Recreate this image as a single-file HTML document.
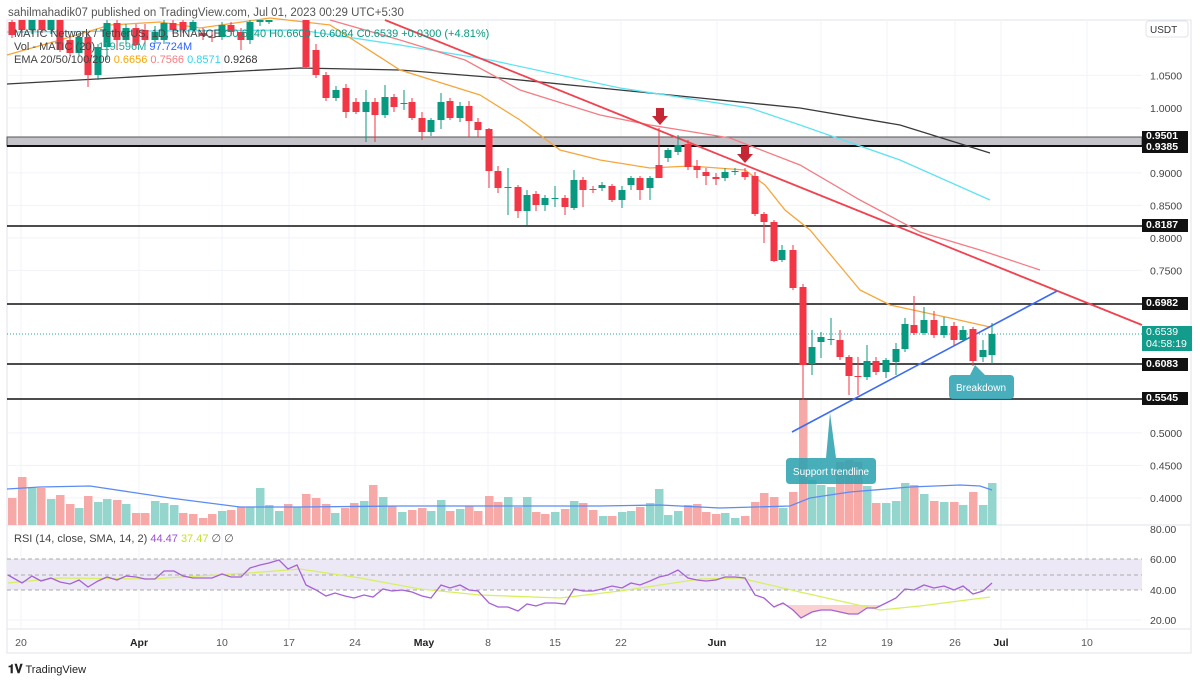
<!DOCTYPE html>
<html><head><meta charset="utf-8"><style>
html,body{margin:0;padding:0;background:#fff;width:1200px;height:681px;overflow:hidden;font-family:"Liberation Sans",sans-serif}
</style></head><body>
<svg id="s" width="1200" height="681" xmlns="http://www.w3.org/2000/svg" font-family="Liberation Sans, sans-serif">
<rect width="1200" height="681" fill="#fff"/>
<text x="8" y="16" font-size="11.5" fill="#555">sahilmahadik07 published on TradingView.com, Jul 01, 2023 00:29 UTC+5:30</text>
<rect x="7" y="20" width="1184" height="633" fill="none" stroke="#e0e3eb"/>
<g id="grid" stroke="#f0f3fa" stroke-width="1"></g>
<!-- RSI band -->
<rect x="7" y="559" width="1135" height="31" fill="#ede8f6"/>
<g stroke="#aaa" stroke-dasharray="4,3" stroke-width="1">
<line x1="7" y1="559" x2="1142" y2="559"/><line x1="7" y1="575" x2="1142" y2="575"/><line x1="7" y1="590" x2="1142" y2="590"/>
</g>
<line x1="7" y1="525" x2="1191" y2="525" stroke="#e0e3eb"/>
<line x1="7" y1="629" x2="1191" y2="629" stroke="#e0e3eb"/>
<g id="vol"></g>
<g id="lines"></g>
<g id="candles"></g>
<g id="over"></g>
<!-- legends -->
<text x="14" y="37" font-size="11" fill="#444">MATIC Network / TetherUS, 1D, BINANCE  <tspan fill="#089981">O0.6240  H0.6600  L0.6084  C0.6539  +0.0300 (+4.81%)</tspan></text>
<text x="14" y="50" font-size="11" fill="#444">Vol - MATIC (20)  <tspan fill="#26a69a">119.596M</tspan>  <tspan fill="#2962ff">97.724M</tspan></text>
<text x="14" y="63" font-size="11" fill="#444">EMA 20/50/100/200  <tspan fill="#f7a600">0.6656</tspan>  <tspan fill="#f77c80">0.7566</tspan>  <tspan fill="#30d5f0">0.8571</tspan>  <tspan fill="#333">0.9268</tspan></text>
<text x="14" y="542" font-size="11" fill="#444">RSI (14, close, SMA, 14, 2)  <tspan fill="#9c4fd0">44.47</tspan>  <tspan fill="#c8e020">37.47</tspan>  <tspan fill="#555">∅  ∅</tspan></text>
<!-- right axis -->
<rect x="1146" y="21" width="42" height="16" rx="3" fill="#fff" stroke="#e0e3eb"/>
<text x="1150" y="33" font-size="10" fill="#333">USDT</text>
<g font-size="10.5" fill="#444" id="axis"></g>
<text x="8" y="673" font-size="11" fill="#222"><tspan font-weight="bold" font-size="12">𝟏𝐕</tspan> TradingView</text>
</svg>
<script>
const NS="http://www.w3.org/2000/svg";
function el(p,t,a,txt){const e=document.createElementNS(NS,t);for(const k in a)e.setAttribute(k,a[k]);if(txt!==undefined)e.textContent=txt;document.getElementById(p).appendChild(e);return e;}
const py=p=>304+(0.6982-p)*650;
// grid
[1.05,1.0,0.9,0.85,0.8,0.75,0.5,0.45,0.4].forEach(p=>el('grid','line',{x1:7,x2:1142,y1:py(p),y2:py(p)}));
el('grid','line',{x1:7,x2:1142,y1:620,y2:620});
const ticks=[[21,'20',0],[139,'Apr',1],[222,'10',0],[289,'17',0],[355,'24',0],[424,'May',1],[488,'8',0],[555,'15',0],[621,'22',0],[717,'Jun',1],[821,'12',0],[887,'19',0],[955,'26',0],[1001,'Jul',1],[1087,'10',0]];
ticks.forEach(t=>{el('grid','line',{x1:t[0],x2:t[0],y1:20,y2:629});
 el('axis','text',{x:t[0],y:646,'text-anchor':'middle','font-weight':t[2]?'bold':'normal','fill':t[2]?'#222':'#555'},t[1]);});
[[1.05,'1.0500'],[1.0,'1.0000'],[0.9,'0.9000'],[0.85,'0.8500'],[0.8,'0.8000'],[0.75,'0.7500'],[0.5,'0.5000'],[0.45,'0.4500'],[0.4,'0.4000']].forEach(a=>el('axis','text',{x:1150,y:py(a[0])+4},a[1]));
[[529,'80.00'],[559,'60.00'],[590,'40.00'],[620,'20.00']].forEach(a=>el('axis','text',{x:1150,y:a[0]+4},a[1]));
// volume
const V=[[12,498,0],[22,477,0],[32,488,1],[41,488,0],[51,499,1],[60,495,0],[70,504,0],[79,508,1],[88,496,0],[98,502,1],[107,499,1],[117,500,0],[126,504,1],[136,513,0],[145,513,0],[155,501,1],[164,503,1],[174,505,1],[183,513,0],[193,514,0],[203,518,0],[212,514,0],[222,511,1],[231,510,0],[241,507,0],[250,507,1],[260,488,1],[269,505,1],[279,511,1],[288,504,0],[297,507,1],[306,494,0],[316,498,0],[326,504,0],[335,513,1],[345,508,0],[354,503,0],[364,501,1],[373,485,0],[383,497,1],[392,506,0],[402,512,1],[412,510,0],[422,508,0],[431,511,1],[441,500,1],[450,511,0],[460,509,1],[469,506,0],[478,511,0],[489,496,0],[498,502,0],[508,497,1],[518,507,0],[527,497,1],[536,512,0],[545,514,0],[555,512,1],[565,509,0],[574,501,1],[583,503,0],[593,510,0],[603,516,1],[612,516,0],[622,512,1],[631,511,1],[640,507,0],[650,503,1],[659,489,1],[668,515,1],[678,511,1],[688,505,0],[697,504,0],[706,512,0],[716,514,0],[725,513,1],[735,518,1],[745,516,0],[755,502,0],[764,493,0],[774,497,0],[783,508,1],[793,492,0],[803,400,0],[812,480,1],[821,485,1],[831,487,1],[840,462,0],[849,460,0],[858,462,0],[867,486,1],[876,503,0],[886,503,1],[896,501,1],[905,483,1],[914,485,0],[924,494,1],[934,501,0],[944,502,1],[954,502,0],[963,505,1],[973,492,0],[983,505,1],[992,483,1]];
V.forEach(v=>el('vol','rect',{x:v[0]-4,y:v[1],width:8.5,height:525-v[1],fill:v[2]?'#94d5ce':'#f7a9a8'}));
function pl(p,pts,c,w,extra){const a={points:pts.map(q=>q.join(',')).join(' '),fill:'none',stroke:c,'stroke-width':w};Object.assign(a,extra||{});return el(p,'polyline',a);}
pl('vol',[[7,489],[40,487],[90,486],[130,492],[170,498],[240,507],[300,507],[400,506],[600,506],[660,505],[720,508],[790,506],[810,498],[850,492],[910,487],[960,485],[980,486],[992,490]],'#5b8cf5',1.3);
// horizontal levels
el('lines','rect',{x:7,y:137,width:1135,height:9,fill:'#c4c4ca',stroke:'#555','stroke-width':1});
el('lines','line',{x1:7,x2:1142,y1:146,y2:146,stroke:'#111','stroke-width':2});
[226,304,364,399].forEach(y=>el('lines','line',{x1:7,x2:1142,y1:y,y2:y,stroke:'#111','stroke-width':1.6}));
el('lines','line',{x1:7,x2:1142,y1:334,y2:334,stroke:'#26a69a','stroke-width':1,'stroke-dasharray':'1,2'});
// EMAs
pl('lines',[[7,84],[150,76],[300,68],[400,70],[500,78],[600,88],[700,98],[800,108],[900,125],[990,153]],'#3a3a3a',1.3);
pl('lines',[[7,32],[300,30],[400,45],[490,60],[620,88],[750,108],[800,125],[900,160],[990,200]],'#5ee3f3',1.3);
pl('lines',[[330,20],[400,40],[465,60],[520,90],[600,115],[650,125],[730,138],[800,165],[860,200],[920,232],[980,250],[1040,270]],'#f47c84',1.3);
pl('lines',[[7,55],[60,40],[110,25],[160,22],[200,28],[270,18],[330,25],[400,70],[480,95],[520,120],[560,150],[600,160],[650,168],[690,166],[745,170],[765,185],[785,210],[810,230],[835,260],[860,290],[890,305],[950,318],[990,327]],'#f7a63a',1.3);
el('lines','line',{x1:385,y1:20,x2:1142,y2:325,stroke:'#f0424f','stroke-width':1.8});
el('lines','line',{x1:792,y1:432,x2:1057,y2:291,stroke:'#3d6cf0','stroke-width':1.6});
// candles [x,o,c,h,l]
const C=[[12,22,35,20,38],[22,20,30,20,33],[32,30,20,20,34],[42,20,30,20,33],[51,30,20,20,34],[60,20,50,20,52],[70,40,53,36,56],[79,53,37,33,56],[88,37,75,32,87],[98,75,47,44,80],[107,47,23,20,60],[117,23,40,20,50],[126,40,28,24,44],[136,28,45,24,48],[145,30,40,24,46],[155,40,32,26,44],[164,40,23,20,44],[173,23,30,20,34],[183,22,30,20,33],[193,30,22,20,33],[203,33,36,28,40],[212,37,38,30,42],[222,37,25,22,40],[231,25,32,22,36],[241,32,40,28,50],[250,40,22,20,44],[260,22,20,20,26],[269,22,20,20,24],[306,20,67,20,68],[316,50,75,44,78],[326,75,98,72,101],[336,98,90,86,101],[346,88,112,84,118],[356,102,112,98,114],[366,112,102,90,142],[375,102,115,98,142],[385,115,97,85,118],[394,97,107,94,112],[404,104,103,90,110],[412,102,118,98,120],[422,118,132,112,140],[431,132,120,118,136],[441,120,102,93,129],[450,101,118,98,120],[460,118,106,102,122],[469,106,121,101,137],[478,122,130,118,137],[489,129,171,128,188],[498,171,188,166,193],[508,188,187,168,215],[518,187,211,185,218],[527,211,195,190,225],[536,194,205,191,211],[545,205,198,195,211],[555,199,198,186,207],[565,198,207,195,215],[574,208,180,170,210],[583,180,190,177,207],[593,189,190,186,193],[602,188,185,182,191],[612,186,200,184,202],[622,200,190,186,208],[631,185,178,176,190],[640,178,190,176,200],[650,188,178,176,200],[659,165,178,128,178],[668,158,150,148,162],[678,152,145,135,155],[688,144,167,140,170],[697,166,170,160,178],[706,172,176,168,185],[716,177,179,173,185],[725,178,172,168,181],[735,172,171,168,175],[745,172,177,168,180],[755,176,214,172,216],[764,214,222,212,243],[774,222,261,220,262],[782,260,250,245,262],[793,250,288,245,290],[803,287,365,284,400],[812,364,347,330,375],[821,342,337,332,358],[831,340,339,318,345],[840,340,357,330,360],[849,357,376,355,395],[858,376,377,357,395],[867,377,361,345,380],[876,361,372,357,375],[886,372,360,358,378],[896,362,349,343,375],[905,349,324,318,352],[914,325,333,296,335],[924,333,320,307,335],[934,320,335,311,338],[944,335,326,317,338],[954,326,340,322,345],[963,340,330,326,342],[973,329,361,327,366],[983,357,350,340,362],[992,355,334,323,364]];
C.forEach(c=>{const g=c[2]<c[1];const col=g?'#089981':'#f23645';
 el('candles','line',{x1:c[0],x2:c[0],y1:Math.max(20,c[3]),y2:c[4],stroke:col,'stroke-width':1});
 const t=Math.max(20,Math.min(c[1],c[2])),b=Math.max(c[1],c[2]);
 if(b>t) el('candles','rect',{x:c[0]-3.5,y:t,width:7,height:Math.max(1,b-t),fill:col});});
// arrows
[[660,108],[745,146]].forEach(a=>{el('over','rect',{x:a[0]-4,y:a[1],width:8,height:8,fill:'#c62735'});
 el('over','polygon',{points:`${a[0]-8},${a[1]+8} ${a[0]+8},${a[1]+8} ${a[0]},${a[1]+17}`,fill:'#c62735'});});
// callouts
el('over','path',{d:'M953,375 H970 L975,365 L985,375 H1010 Q1014,375 1014,379 V395 Q1014,399 1010,399 H953 Q949,399 949,395 V379 Q949,375 953,375Z',fill:'#3faab7',opacity:0.95});
el('over','text',{x:981,y:391,'text-anchor':'middle','font-size':'10','fill':'#fff'},'Breakdown');
el('over','path',{d:'M790,458 H826 L830,413 L836,458 H872 Q876,458 876,462 V480 Q876,484 872,484 H790 Q786,484 786,480 V462 Q786,458 790,458Z',fill:'#2da3b0',opacity:0.88});
el('over','text',{x:831,y:475,'text-anchor':'middle','font-size':'10','fill':'#fff'},'Support trendline');
// RSI
const R=[[8,575],[22,583],[32,576],[41,581],[51,578],[60,582],[70,584],[79,580],[88,587],[98,581],[107,577],[117,580],[126,576],[136,577],[145,579],[155,579],[164,571],[174,571],[183,576],[193,578],[203,578],[212,578],[222,574],[231,577],[241,577],[250,568],[260,565],[269,563],[279,560],[288,569],[297,565],[306,585],[316,590],[326,596],[335,593],[345,596],[354,598],[364,595],[373,597],[383,589],[392,591],[402,590],[412,592],[422,596],[431,598],[441,585],[450,588],[460,585],[469,590],[478,591],[489,603],[498,607],[508,607],[518,611],[527,604],[536,606],[545,603],[555,603],[565,604],[574,589],[583,591],[593,591],[602,589],[612,586],[622,588],[631,583],[640,585],[650,581],[659,577],[668,575],[678,570],[688,578],[697,580],[706,581],[716,580],[725,577],[735,577],[745,578],[755,595],[764,598],[774,607],[783,603],[793,610],[801,618],[812,612],[821,610],[831,610],[840,612],[849,614],[858,614],[867,608],[876,608],[886,603],[896,598],[905,589],[914,590],[924,585],[934,588],[944,586],[954,590],[963,586],[973,594],[983,591],[992,583]];
el('over','path',{d:'M774,605 L783,603 L793,610 L801,618 L812,612 L821,610 L831,610 L840,612 L849,614 L858,614 L867,608 L876,608 L880,605Z',fill:'#fbd0d0'});
pl('over',[[8,583],[60,578],[150,579],[250,573],[300,569],[360,578],[420,589],[480,595],[560,598],[620,591],[700,579],[740,578],[800,592],[880,610],[920,606],[990,597]],'#d8ef60',1.3);
pl('over',R,'#a561d6',1.3);
</script>
<svg width="0" height="0"></svg>
<div style="position:absolute;left:1142px;top:131px;width:42px;height:22px;background:#111;color:#fff;font:bold 10.5px 'Liberation Sans',sans-serif;line-height:11px;padding-left:4px">0.9501<br>0.9385</div>
<div style="position:absolute;left:1142px;top:219px;width:42px;height:13px;background:#111;color:#fff;font:bold 10.5px 'Liberation Sans',sans-serif;line-height:13px;padding-left:4px">0.8187</div>
<div style="position:absolute;left:1142px;top:297px;width:42px;height:13px;background:#111;color:#fff;font:bold 10.5px 'Liberation Sans',sans-serif;line-height:13px;padding-left:4px">0.6982</div>
<div style="position:absolute;left:1142px;top:326px;width:46px;height:25px;background:#129c8c;color:#fff;font:10.5px 'Liberation Sans',sans-serif;line-height:12px;padding-left:4px">0.6539<br>04:58:19</div>
<div style="position:absolute;left:1142px;top:358px;width:42px;height:13px;background:#111;color:#fff;font:bold 10.5px 'Liberation Sans',sans-serif;line-height:13px;padding-left:4px">0.6083</div>
<div style="position:absolute;left:1142px;top:392px;width:42px;height:13px;background:#111;color:#fff;font:bold 10.5px 'Liberation Sans',sans-serif;line-height:13px;padding-left:4px">0.5545</div>
</body></html>
